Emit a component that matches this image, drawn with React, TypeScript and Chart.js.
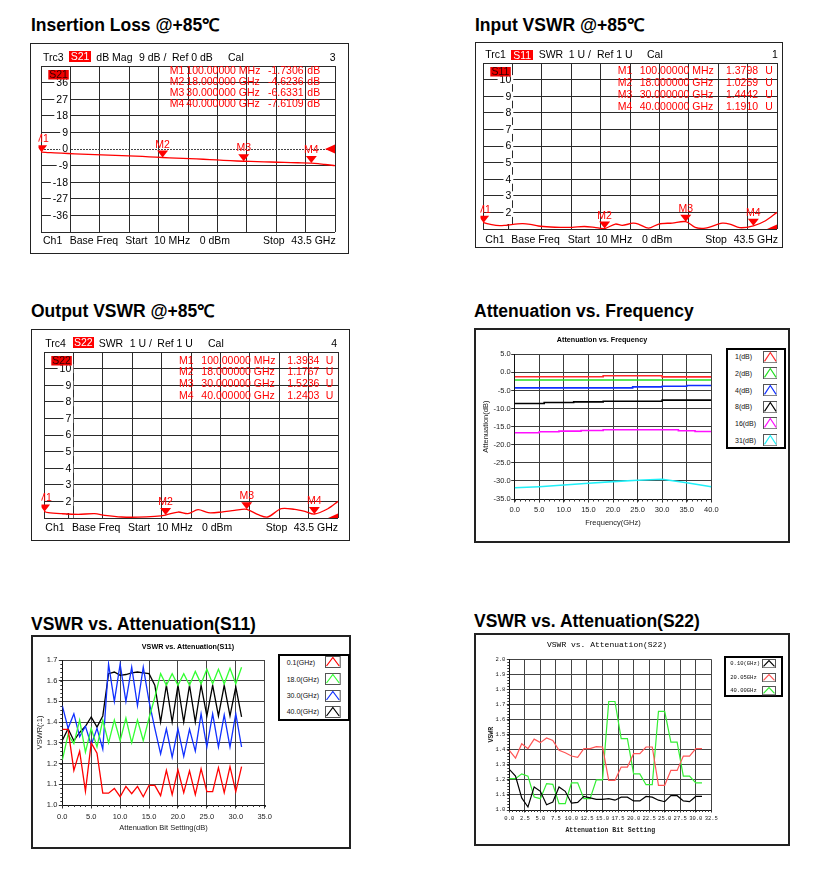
import React, { useEffect, useRef } from "react";
import { Chart, registerables } from "chart.js";

Chart.register(...registerables);

const SANS = '"Liberation Sans", Arial, Helvetica, sans-serif';
const MONO = '"Liberation Mono", "DejaVu Sans Mono", "Courier New", monospace';
const VFS = 10.5; // VNA text size

/* ================= DATA ================= */
// VNA markers
const markerNames = ["M1", "M2", "M3", "M4"];
const markerFreqGHz = [0.1, 18, 30, 40];

// Insertion loss S21 (dB) vs frequency (GHz)
const s21FreqGHz = [0.01, 0.1, 2, 4, 6, 8, 10, 12, 14, 16, 18, 20, 22, 24, 26, 28, 30, 32, 34, 36, 38, 40, 41, 42, 43.5];
const s21LossDb = [-1.45, -1.73, -2.1, -2.45, -2.75, -3.0, -3.3, -3.55, -3.85, -4.25, -4.62, -4.95, -5.2, -5.55, -5.95, -6.35, -6.63, -6.85, -7.05, -7.3, -7.45, -7.61, -7.9, -8.4, -9.0];
const s21MarkerDb = [-1.7306, -4.6236, -6.6331, -7.6109];
const s21YTicks = [36, 27, 18, 9, 0, -9, -18, -27, -36];

// Input VSWR S11
const s11FreqGHz = [0.01, 0.1, 1.3, 2.5, 3.3, 5.8, 7, 8.2, 10, 11.5, 13.2, 15, 16.5, 18, 19.6, 20.6, 22.2, 23, 24.5, 26, 28, 30, 31.4, 32.9, 35.4, 36.5, 38, 40, 41.8, 43.5];
const s11Swr = [1.45, 1.38, 1.26, 1.2, 1.22, 1.32, 1.28, 1.18, 1.12, 1.1, 1.1, 1.15, 1.1, 1.026, 1.3, 1.22, 1.35, 1.3, 1.05, 1.3, 1.36, 1.444, 1.1, 1.05, 1.35, 1.3, 1.08, 1.191, 1.5, 2.0];
const s11MarkerSwr = [1.3798, 1.0259, 1.4442, 1.191];

// Output VSWR S22
const s22FreqGHz = [0.01, 0.1, 0.64, 2.6, 5.07, 7.5, 9, 11.5, 13.9, 16.4, 18, 19.85, 21.3, 22.8, 24.3, 26.25, 28.2, 30, 31.7, 33.1, 35.1, 37.1, 38.6, 40, 42, 43.5];
const s22Swr = [1.5, 1.393, 1.32, 1.26, 1.22, 1.26, 1.16, 1.06, 1.05, 1.1, 1.177, 1.36, 1.26, 1.5, 1.32, 1.36, 1.46, 1.524, 1.2, 1.06, 1.56, 1.52, 1.4, 1.24, 1.56, 2.0];
const s22MarkerSwr = [1.3934, 1.1767, 1.5236, 1.2403];
const swrYTicks = [10, 9, 8, 7, 6, 5, 4, 3, 2, 1];

// Attenuation vs frequency
const attStates = ["1(dB)", "2(dB)", "4(dB)", "8(dB)", "16(dB)", "31(dB)"];
const attFreq1 = [0, 18, 18, 30, 30, 40];
const attVal1 = [-1.2, -1.2, -0.95, -0.95, -1.25, -1.25];
const attFreq2 = [0, 40];
const attVal2 = [-2.1, -2.1];
const attFreq4 = [0, 24, 24, 30, 30, 35, 35, 40];
const attVal4 = [-4.28, -4.28, -4.0, -4.0, -3.82, -3.82, -3.64, -3.64];
const attFreq8 = [0, 6, 6, 12, 12, 18, 18, 30, 30, 40];
const attVal8 = [-8.6, -8.6, -8.33, -8.33, -8.14, -8.14, -7.96, -7.96, -7.68, -7.68];
const attFreq16 = [0, 5, 5, 9, 9, 13.5, 13.5, 18, 18, 33.3, 33.3, 36.7, 36.7, 40];
const attVal16 = [-16.69, -16.69, -16.42, -16.42, -16.23, -16.23, -16.05, -16.05, -15.86, -15.86, -16.14, -16.14, -16.32, -16.32];
const attFreq31 = [0, 5, 10, 15, 20, 25, 30, 35, 40];
const attVal31 = [-31.9, -31.6, -31.15, -30.65, -30.2, -29.8, -29.55, -30.5, -31.6];
const attXTicks = [0, 5, 10, 15, 20, 25, 30, 35, 40];
const attYTicks = [5, 0, -5, -10, -15, -20, -25, -30, -35];

// VSWR vs attenuation bit setting
const bitSetting = [0, 1, 2, 3, 4, 5, 6, 7, 8, 9, 10, 11, 12, 13, 14, 15, 16, 17, 18, 19, 20, 21, 22, 23, 24, 25, 26, 27, 28, 29, 30, 31];
const s11Names = ["0.1(GHz)", "18.0(GHz)", "30.0(GHz)", "40.0(GHz)"];
const s11At01 = [1.365, 1.365, 1.167, 1.26, 1.066, 1.3, 1.25, 1.057, 1.057, 1.08, 1.04, 1.09, 1.055, 1.09, 1.04, 1.095, 1.095, 1.045, 1.167, 1.05, 1.17, 1.06, 1.165, 1.05, 1.175, 1.065, 1.065, 1.18, 1.06, 1.185, 1.065, 1.185];
const s11At18 = [1.217, 1.34, 1.296, 1.41, 1.255, 1.37, 1.28, 1.41, 1.3, 1.41, 1.31, 1.42, 1.3, 1.41, 1.31, 1.42, 1.52, 1.634, 1.578, 1.634, 1.578, 1.634, 1.578, 1.645, 1.585, 1.655, 1.585, 1.655, 1.585, 1.66, 1.585, 1.665];
const s11At30 = [1.48, 1.37, 1.44, 1.33, 1.38, 1.29, 1.37, 1.27, 1.68, 1.5, 1.68, 1.5, 1.666, 1.48, 1.666, 1.5, 1.37, 1.247, 1.368, 1.231, 1.368, 1.235, 1.365, 1.26, 1.44, 1.28, 1.44, 1.28, 1.435, 1.28, 1.44, 1.28];
const s11At40 = [1.312, 1.368, 1.31, 1.35, 1.38, 1.425, 1.376, 1.43, 1.634, 1.642, 1.626, 1.63, 1.638, 1.642, 1.638, 1.634, 1.578, 1.4, 1.578, 1.4, 1.578, 1.4, 1.578, 1.4, 1.578, 1.43, 1.578, 1.43, 1.578, 1.43, 1.57, 1.425];
const s11XTicks = [0, 5, 10, 15, 20, 25, 30, 35];
const s11YTicks = [1.0, 1.1, 1.2, 1.3, 1.4, 1.5, 1.6, 1.7];

const s22Names = ["0.10(GHz)", "20.05GHz", "40.00GHz"];
const s22At010 = [1.27, 1.225, 1.08, 1.02, 1.153, 1.124, 1.035, 1.053, 1.153, 1.124, 1.045, 1.05, 1.09, 1.08, 1.07, 1.07, 1.075, 1.065, 1.085, 1.085, 1.06, 1.06, 1.09, 1.085, 1.065, 1.055, 1.095, 1.095, 1.06, 1.055, 1.09, 1.09];
const s22At2005 = [1.396, 1.345, 1.44, 1.407, 1.47, 1.447, 1.478, 1.462, 1.396, 1.38, 1.358, 1.35, 1.407, 1.407, 1.42, 1.418, 1.197, 1.197, 1.285, 1.285, 1.374, 1.374, 1.418, 1.418, 1.164, 1.164, 1.263, 1.263, 1.358, 1.358, 1.407, 1.407];
const s22At40 = [1.208, 1.208, 1.24, 1.225, 1.086, 1.075, 1.175, 1.17, 1.042, 1.042, 1.18, 1.18, 1.075, 1.075, 1.2, 1.2, 1.72, 1.72, 1.473, 1.473, 1.24, 1.24, 1.168, 1.168, 1.655, 1.655, 1.45, 1.45, 1.225, 1.225, 1.18, 1.18];
const s22XTicks = [0, 2.5, 5, 7.5, 10, 12.5, 15, 17.5, 20, 22.5, 25, 27.5, 30, 32.5];
const s22YTicks = [1.0, 1.1, 1.2, 1.3, 1.4, 1.5, 1.6, 1.7, 1.8, 1.9, 2.0];

/* ================= STYLES ================= */
const attColors = ["#ff2a2a", "#22e022", "#1030ff", "#000000", "#ff10ff", "#20f0f8"];
const s11Colors = ["#ff0000", "#33ff33", "#1030ff", "#000000"];
const s22Colors = ["#000000", "#ff5555", "#33ee33"];

/* ================= HELPERS ================= */
function ChartCanvas({ left, top, width, height, make }: any) {
  const ref = useRef<HTMLCanvasElement | null>(null);
  useEffect(() => {
    if (!ref.current) return;
    const ch = new Chart(ref.current, make());
    return () => ch.destroy();
  }, []);
  return (
    <canvas
      ref={ref}
      width={width}
      height={height}
      style={{ position: "absolute", left, top, width, height }}
    />
  );
}

function T({ x, y, size = VFS, color = "#000", bold = false, font = SANS, center = false, children }: any) {
  return (
    <div
      style={{
        position: "absolute",
        left: x,
        top: y,
        fontSize: size,
        lineHeight: `${size}px`,
        color,
        fontWeight: bold ? 700 : 400,
        fontFamily: font,
        whiteSpace: "nowrap",
        transform: center ? "translateX(-50%)" : undefined,
      }}
    >
      {children}
    </div>
  );
}

const fmtFreq = (f: number) => (f < 1 ? (f * 1000).toFixed(5) + " MHz" : f.toFixed(6) + " GHz");

function vnaPlugin(p: any) {
  return {
    id: "vna",
    beforeDatasetsDraw(chart: any) {
      const { ctx, chartArea: a, scales } = chart;
      const y = scales.y;
      ctx.save();
      if (p.refLine) {
        const py = Math.round(y.getPixelForValue(p.ref)) + 0.5;
        ctx.strokeStyle = "#444";
        ctx.lineWidth = 1;
        ctx.setLineDash([2, 1]);
        ctx.beginPath();
        ctx.moveTo(a.left, py);
        ctx.lineTo(a.right, py);
        ctx.stroke();
        ctx.setLineDash([]);
      }
      ctx.beginPath();
      ctx.rect(a.left, a.top, a.right - a.left, a.bottom - a.top);
      ctx.clip();
      ctx.font = `${VFS}px ${SANS}`;
      ctx.textAlign = "right";
      ctx.textBaseline = "middle";
      for (const v of p.yTicks) {
        const py = y.getPixelForValue(v);
        const t = String(v);
        const w = ctx.measureText(t).width;
        const rx = a.left + p.labelDx;
        ctx.fillStyle = "#fff";
        ctx.fillRect(rx - w - 2, py - 4.5, w + 4, 9);
        ctx.fillStyle = "#000";
        ctx.fillText(t, rx, py + 0.5);
      }
      ctx.restore();
    },
    afterDatasetsDraw(chart: any) {
      const { ctx, chartArea: a, scales } = chart;
      const x = scales.x;
      const y = scales.y;
      ctx.save();
      // trace tag box
      ctx.fillStyle = "#ee0000";
      ctx.fillRect(a.left + 7.3, a.top + 4, 20.5, 9.5);
      ctx.fillStyle = "#300";
      ctx.font = `${VFS}px ${SANS}`;
      ctx.textAlign = "center";
      ctx.textBaseline = "middle";
      ctx.fillText(p.tag, a.left + 17.5, a.top + 9.2);
      // markers (clipped a little left of the grid)
      ctx.save();
      ctx.beginPath();
      ctx.rect(a.left - 2.5, 0, chart.width, chart.height);
      ctx.clip();
      ctx.fillStyle = "#ff0000";
      ctx.textBaseline = "alphabetic";
      p.mVals.forEach((v: number, i: number) => {
        const px = x.getPixelForValue(markerFreqGHz[i]);
        const py = y.getPixelForValue(v);
        ctx.beginPath();
        ctx.moveTo(px, py);
        ctx.lineTo(px - 5.5, py - 7);
        ctx.lineTo(px + 5.5, py - 7);
        ctx.closePath();
        ctx.fill();
        ctx.fillText(markerNames[i], px, py - 10);
      });
      ctx.restore();
      // reference arrow
      ctx.fillStyle = "#ff0000";
      ctx.beginPath();
      ctx.rect(a.left, a.top, a.right - a.left + 1, a.bottom - a.top);
      ctx.clip();
      const ry = y.getPixelForValue(p.ref);
      ctx.beginPath();
      ctx.moveTo(a.right - 10, ry);
      ctx.lineTo(a.right, ry - 4.5);
      ctx.lineTo(a.right, ry + 4.5);
      ctx.closePath();
      ctx.fill();
      ctx.restore();
    },
  };
}

function vnaConfig(p: any) {
  const divs = (min: number, max: number) => (s: any) => {
    s.ticks = [0, 1, 2, 3, 4, 5, 6, 7, 8, 9, 10].map((i) => ({ value: min + ((max - min) * i) / 10 }));
  };
  return {
    type: "line",
    data: {
      datasets: [
        {
          data: p.freq.map((f: number, i: number) => ({ x: f, y: p.vals[i] })),
          borderColor: "#ff0000",
          borderWidth: 1.3,
          pointRadius: 0,
          tension: 0.3,
          fill: false,
        },
      ],
    },
    options: {
      animation: false,
      responsive: false,
      events: [],
      layout: { padding: p.pad },
      plugins: { legend: { display: false }, tooltip: { enabled: false } },
      scales: {
        x: {
          type: "linear",
          min: 0.01,
          max: 43.5,
          afterBuildTicks: divs(0.01, 43.5),
          afterFit: (s: any) => {
            s.height = 0;
          },
          ticks: { display: false },
          grid: { color: "#2a2a2a", drawTicks: false },
          border: { display: false },
        },
        y: {
          type: "linear",
          min: p.yMin,
          max: p.yMax,
          afterBuildTicks: divs(p.yMin, p.yMax),
          afterFit: (s: any) => {
            s.width = 0;
          },
          ticks: { display: false },
          grid: {
            color: (c: any) => (p.refLine && c.tick && Math.abs(c.tick.value - p.ref) < 1e-6 ? "rgba(0,0,0,0)" : "#2a2a2a"),
            drawTicks: false,
          },
          border: { display: false },
        },
      },
    },
    plugins: [vnaPlugin(p)],
  };
}

function minorPlugin(m: any) {
  return {
    id: "minor",
    afterDraw(chart: any) {
      const { ctx, chartArea: a, scales } = chart;
      const x = scales.x;
      const y = scales.y;
      ctx.save();
      ctx.strokeStyle = m.color;
      ctx.lineWidth = 1;
      ctx.beginPath();
      if (m.xStep) {
        const n = Math.round((x.max - x.min) / m.xStep);
        for (let i = 0; i <= n; i++) {
          const px = Math.round(x.getPixelForValue(x.min + i * m.xStep)) + 0.5;
          ctx.moveTo(px, a.bottom);
          ctx.lineTo(px, a.bottom + m.len);
        }
      }
      if (m.yStep) {
        const n = Math.round((y.max - y.min) / m.yStep);
        for (let i = 0; i <= n; i++) {
          const py = Math.round(y.getPixelForValue(y.min + i * m.yStep)) + 0.5;
          ctx.moveTo(a.left - m.len, py);
          ctx.lineTo(a.left, py);
        }
      }
      ctx.stroke();
      ctx.restore();
    },
  };
}

function labConfig(s: any) {
  const tickFont = { family: s.tickFamily, size: s.tickSize };
  const titleFont = { family: s.titleFamily, size: s.titleSize, weight: s.titleWeight };
  return {
    type: "line",
    data: {
      datasets: s.series.map((d: any) => ({
        label: d.label,
        data: d.x.map((xv: number, i: number) => ({ x: xv, y: d.y[i] })),
        borderColor: d.color,
        borderWidth: s.lineWidth,
        pointRadius: 0,
        tension: 0,
        fill: false,
      })),
    },
    options: {
      animation: false,
      responsive: false,
      events: [],
      layout: { padding: s.pad },
      plugins: { legend: { display: false }, tooltip: { enabled: false } },
      scales: {
        x: {
          type: "linear",
          min: s.xTicks[0],
          max: s.xTicks[s.xTicks.length - 1],
          afterBuildTicks: (sc: any) => {
            sc.ticks = s.xTicks.map((v: number) => ({ value: v }));
          },
          afterFit: (sc: any) => {
            sc.height = s.xAxisH;
          },
          ticks: {
            autoSkip: false,
            maxRotation: 0,
            font: tickFont,
            color: "#222",
            padding: s.xTickPad,
            callback: (v: any) => Number(v).toFixed(1),
          },
          grid: { color: s.gridColor, tickLength: s.tickLen, tickColor: "#333" },
          border: { color: "#111" },
          title: { display: true, text: s.xTitle, font: titleFont, color: "#222", padding: { top: 0, bottom: s.xTitlePad } },
        },
        y: {
          type: "linear",
          min: Math.min(...s.yTicks),
          max: Math.max(...s.yTicks),
          afterBuildTicks: (sc: any) => {
            sc.ticks = s.yTicks.map((v: number) => ({ value: v }));
          },
          afterFit: (sc: any) => {
            sc.width = s.yAxisW;
          },
          ticks: {
            autoSkip: false,
            font: tickFont,
            color: "#222",
            padding: s.yTickPad,
            callback: (v: any) => Number(v).toFixed(1),
          },
          grid: { color: s.gridColor, tickLength: s.tickLen, tickColor: "#333" },
          border: { color: "#111" },
          title: { display: true, text: s.yTitle, font: titleFont, color: "#222", padding: { top: s.yTitlePad, bottom: 0 } },
        },
      },
    },
    plugins: [minorPlugin(s.minor)],
  };
}

function Legend({ left, top, width, height, border, items, textX, rowY, sampleX, sampleW, sampleH, font, size }: any) {
  return (
    <>
      <div
        style={{
          position: "absolute",
          left,
          top,
          width,
          height,
          border: `${border}px solid #000`,
          boxSizing: "border-box",
          background: "#fff",
        }}
      />
      {items.map((it: any, i: number) => (
        <React.Fragment key={i}>
          <div
            style={{
              position: "absolute",
              left: textX,
              top: rowY[i] - size * 0.5,
              fontFamily: font,
              fontSize: size,
              lineHeight: `${size}px`,
              color: "#111",
              whiteSpace: "nowrap",
            }}
          >
            {it.label}
          </div>
          <svg
            width={sampleW}
            height={sampleH}
            style={{ position: "absolute", left: sampleX, top: rowY[i] - sampleH / 2 }}
          >
            <rect x={0.5} y={0.5} width={sampleW - 1} height={sampleH - 1} fill="#fff" stroke="#555" strokeWidth={1} />
            <polyline
              points={`1.5,${sampleH - 2} ${sampleW / 2},1.5 ${sampleW - 1.5},${sampleH - 2}`}
              fill="none"
              stroke={it.color}
              strokeWidth={1.2}
            />
          </svg>
        </React.Fragment>
      ))}
    </>
  );
}

function VnaPanel(p: any) {
  return (
    <>
      <div
        style={{
          position: "absolute",
          left: p.box[0],
          top: p.box[1],
          width: p.box[2],
          height: p.box[3],
          border: "1px solid #222",
          boxSizing: "border-box",
        }}
      />
      <ChartCanvas left={p.canvas[0]} top={p.canvas[1]} width={p.canvas[2]} height={p.canvas[3]} make={() => vnaConfig(p.spec)} />
      {p.headerTexts.map((t: string, i: number) => (
        <T key={"h" + i} x={p.headerX[i]} y={p.headerTop}>
          {t}
        </T>
      ))}
      <div
        style={{
          position: "absolute",
          left: p.paramBox[0],
          top: p.paramBox[1],
          width: p.paramBox[2],
          height: p.paramBox[3],
          background: "#ff0000",
          color: "#fff",
          fontFamily: SANS,
          fontSize: VFS,
          lineHeight: `${p.paramBox[3]}px`,
          textAlign: "center",
        }}
      >
        {p.spec.tag}
      </div>
      {markerNames.map((n, i) =>
        [n, fmtFreq(markerFreqGHz[i]), p.spec.mVals[i].toFixed(4), p.unit].map((c, j) => (
          <T key={`r${i}_${j}`} x={p.colX[j]} y={p.rowTops[i]} color="#ff0000">
            {c}
          </T>
        ))
      )}
      {p.footerTexts.map((t: string, i: number) => (
        <T key={"f" + i} x={p.footerX[i]} y={p.footerTop}>
          {t}
        </T>
      ))}
    </>
  );
}

const footerTexts = ["Ch1", "Base Freq", "Start", "10 MHz", "0 dBm", "Stop", "43.5 GHz"];

export default function App() {
  const titleStyle = { size: 17.5, bold: true };
  return (
    <div style={{ position: "absolute", left: 0, top: 0, width: 815, height: 876, background: "#fff", overflow: "hidden" }}>
      {/* Titles */}
      <T x={31} y={16.5} {...titleStyle}>Insertion Loss @+85℃</T>
      <T x={475} y={16.5} {...titleStyle}>Input VSWR @+85℃</T>
      <T x={31} y={302.5} {...titleStyle}>Output VSWR @+85℃</T>
      <T x={474} y={302.5} {...titleStyle}>Attenuation vs. Frequency</T>
      <T x={31} y={615.5} {...titleStyle}>VSWR vs. Attenuation(S11)</T>
      <T x={474} y={612.5} {...titleStyle}>VSWR vs. Attenuation(S22)</T>

      {/* Panel 1: Insertion loss */}
      <VnaPanel
        box={[30, 43, 319, 211]}
        canvas={[31, 44, 316, 208]}
        spec={{
          freq: s21FreqGHz,
          vals: s21LossDb,
          yMin: -45,
          yMax: 45,
          yTicks: s21YTicks,
          mVals: s21MarkerDb,
          ref: 0,
          refLine: true,
          tag: "S21",
          labelDx: 27,
          pad: { left: 10, top: 22, right: 12, bottom: 20 },
        }}
        unit="dB"
        headerTexts={["Trc3", "dB Mag", "9 dB /", "Ref 0 dB", "Cal", "3"]}
        headerX={[43, 96.3, 139, 172, 228, 329.7]}
        headerTop={51.6}
        paramBox={[68.7, 51, 22.6, 10.7]}
        rowTops={[65.3, 76.3, 87.3, 98.3]}
        colX={[169.7, 186.3, 268, 307.3]}
        footerTexts={footerTexts}
        footerX={[43, 69.7, 125.3, 154, 199.7, 263, 291.3]}
        footerTop={235.3}
      />

      {/* Panel 2: Input VSWR */}
      <VnaPanel
        box={[475, 42, 308, 206]}
        canvas={[476, 43, 305, 203]}
        spec={{
          freq: s11FreqGHz,
          vals: s11Swr,
          yMin: 1,
          yMax: 11,
          yTicks: swrYTicks,
          mVals: s11MarkerSwr,
          ref: 1,
          refLine: false,
          tag: "S11",
          labelDx: 28.3,
          pad: { left: 7, top: 20, right: 4, bottom: 17 },
        }}
        unit="U"
        headerTexts={["Trc1", "SWR", "1 U /", "Ref 1 U", "Cal", "1"]}
        headerX={[485.3, 538.7, 568.7, 597, 647, 772]}
        headerTop={49.3}
        paramBox={[511.3, 50, 21.7, 10]}
        rowTops={[64.6, 76.6, 88.6, 100.6]}
        colX={[617.7, 639.7, 726, 765.3]}
        footerTexts={footerTexts}
        footerX={[485.3, 511.3, 567.7, 596, 642, 705.3, 733.7]}
        footerTop={233.6}
      />

      {/* Panel 3: Output VSWR */}
      <VnaPanel
        box={[31, 329, 319, 212]}
        canvas={[32, 330, 316, 209]}
        spec={{
          freq: s22FreqGHz,
          vals: s22Swr,
          yMin: 1,
          yMax: 11,
          yTicks: swrYTicks,
          mVals: s22MarkerSwr,
          ref: 1,
          refLine: false,
          tag: "S22",
          labelDx: 27.3,
          pad: { left: 12, top: 22, right: 10, bottom: 21 },
        }}
        unit="U"
        headerTexts={["Trc4", "SWR", "1 U /", "Ref 1 U", "Cal", "4"]}
        headerX={[45.3, 98.7, 129.7, 157.3, 208, 331.3]}
        headerTop={337.6}
        paramBox={[73, 336.7, 20.7, 11]}
        rowTops={[354.6, 366.3, 377.9, 389.6]}
        colX={[179, 201.3, 287.3, 325.7]}
        footerTexts={footerTexts}
        footerX={[45.3, 72, 128, 156.7, 202, 265.7, 293.7]}
        footerTop={521.9}
      />

      {/* Panel 4: Attenuation vs Frequency */}
      <div style={{ position: "absolute", left: 474, top: 328, width: 316, height: 215, border: "2px solid #222", boxSizing: "border-box" }} />
      <ChartCanvas
        left={475}
        top={329}
        width={313}
        height={212}
        make={() =>
          labConfig({
            series: [
              { label: attStates[0], color: attColors[0], x: attFreq1, y: attVal1 },
              { label: attStates[1], color: attColors[1], x: attFreq2, y: attVal2 },
              { label: attStates[2], color: attColors[2], x: attFreq4, y: attVal4 },
              { label: attStates[3], color: attColors[3], x: attFreq8, y: attVal8 },
              { label: attStates[4], color: attColors[4], x: attFreq16, y: attVal16 },
              { label: attStates[5], color: attColors[5], x: attFreq31, y: attVal31 },
            ],
            xTicks: attXTicks,
            yTicks: attYTicks,
            xTitle: "Frequency(GHz)",
            yTitle: "Attenuation(dB)",
            tickFamily: SANS,
            tickSize: 7.5,
            titleFamily: SANS,
            titleSize: 7.5,
            titleWeight: 400,
            lineWidth: 1.6,
            gridColor: "#3c3c3c",
            tickLen: 3.5,
            pad: { left: 0, top: 25.3, right: 76.7, bottom: 0 },
            yAxisW: 39.7,
            xAxisH: 42,
            xTickPad: 2.5,
            yTickPad: 0.5,
            xTitlePad: 13.2,
            yTitlePad: 6.5,
            minor: { xStep: 1, len: 2.5, color: "#333" },
          })
        }
      />
      <T x={602} y={336.3} size={7.2} bold center>Attenuation vs. Frequency</T>
      <Legend
        left={726}
        top={348}
        width={60}
        height={101}
        border={2}
        items={attStates.map((l, i) => ({ label: l, color: attColors[i] }))}
        textX={735}
        rowY={[356.7, 373.3, 390, 406.7, 423.3, 440]}
        sampleX={762.7}
        sampleW={14.6}
        sampleH={12.3}
        font={SANS}
        size={7}
      />

      {/* Panel 5: VSWR vs Attenuation (S11) */}
      <div style={{ position: "absolute", left: 31, top: 635, width: 320, height: 214, border: "2px solid #222", boxSizing: "border-box" }} />
      <ChartCanvas
        left={32}
        top={636}
        width={317}
        height={211}
        make={() =>
          labConfig({
            series: [
              { label: s11Names[0], color: s11Colors[0], x: bitSetting, y: s11At01 },
              { label: s11Names[1], color: s11Colors[1], x: bitSetting, y: s11At18 },
              { label: s11Names[2], color: s11Colors[2], x: bitSetting, y: s11At30 },
              { label: s11Names[3], color: s11Colors[3], x: bitSetting, y: s11At40 },
            ],
            xTicks: s11XTicks,
            yTicks: s11YTicks,
            xTitle: "Attenuation Bit Setting(dB)",
            yTitle: "VSWR(:1)",
            tickFamily: SANS,
            tickSize: 7.5,
            titleFamily: SANS,
            titleSize: 7.5,
            titleWeight: 400,
            lineWidth: 1.3,
            gridColor: "#444",
            tickLen: 3.5,
            pad: { left: 0, top: 24, right: 84.3, bottom: 0 },
            yAxisW: 30.3,
            xAxisH: 42,
            xTickPad: 3.7,
            yTickPad: 1.5,
            xTitlePad: 14.2,
            yTitlePad: 3.2,
            minor: { xStep: 1, yStep: 0.02, len: 2, color: "#333" },
          })
        }
      />
      <T x={188} y={643} size={7.2} bold center>VSWR vs. Attenuation(S11)</T>
      <Legend
        left={278}
        top={654}
        width={72}
        height={67}
        border={2}
        items={s11Names.map((l, i) => ({ label: l, color: s11Colors[i] }))}
        textX={286.7}
        rowY={[662.3, 679, 695.7, 711.7]}
        sampleX={325}
        sampleW={15.7}
        sampleH={12}
        font={SANS}
        size={7}
      />

      {/* Panel 6: VSWR vs Attenuation (S22) */}
      <div style={{ position: "absolute", left: 474, top: 633, width: 316, height: 213, border: "2px solid #222", boxSizing: "border-box" }} />
      <ChartCanvas
        left={475}
        top={634}
        width={313}
        height={210}
        make={() =>
          labConfig({
            series: [
              { label: s22Names[0], color: s22Colors[0], x: bitSetting, y: s22At010 },
              { label: s22Names[1], color: s22Colors[1], x: bitSetting, y: s22At2005 },
              { label: s22Names[2], color: s22Colors[2], x: bitSetting, y: s22At40 },
            ],
            xTicks: s22XTicks,
            yTicks: s22YTicks,
            xTitle: "Attenuation Bit Setting",
            yTitle: "VSWR",
            tickFamily: MONO,
            tickSize: 5.5,
            titleFamily: MONO,
            titleSize: 6.5,
            titleWeight: 700,
            lineWidth: 1.2,
            gridColor: "#444",
            tickLen: 2.5,
            pad: { left: 0, top: 25.3, right: 76.7, bottom: 0 },
            yAxisW: 34.3,
            xAxisH: 34,
            xTickPad: 2.5,
            yTickPad: 1.5,
            xTitlePad: 10.1,
            yTitlePad: 12.1,
            minor: { xStep: 0.5, yStep: 0.02, len: 2, color: "#333" },
          })
        }
      />
      <T x={607} y={641} size={8} font={MONO} center>VSWR vs. Attenuation(S22)</T>
      <Legend
        left={724}
        top={656}
        width={59}
        height={41}
        border={2}
        items={s22Names.map((l, i) => ({ label: l, color: s22Colors[i] }))}
        textX={730.3}
        rowY={[663.3, 677.3, 691]}
        sampleX={762}
        sampleW={14}
        sampleH={9.3}
        font={MONO}
        size={5.5}
      />
    </div>
  );
}
